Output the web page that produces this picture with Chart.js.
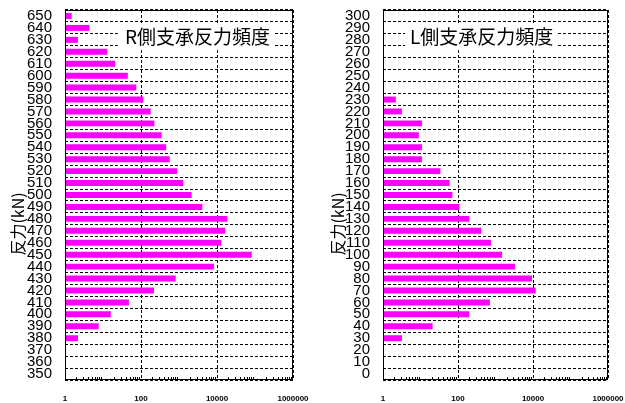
<!DOCTYPE html>
<html>
<head>
<meta charset="utf-8">
<script src="https://cdn.jsdelivr.net/npm/chart.js@4"></script>
<style>
  html, body { margin: 0; padding: 0; background: #fff; }
  .box { position: absolute; top: 0; height: 403px; }
  #left { left: 0; width: 310px; }
  #right { left: 320px; width: 305px; }
</style>
</head>
<body>
<div class="box" id="left"><canvas id="chartR"></canvas></div>
<div class="box" id="right"><canvas id="chartL"></canvas></div>
<script>
// R side: reaction force class (kN), bottom to top
const rLabels = ['350', '360', '370', '380', '390', '400', '410', '420', '430', '440',
  '450', '460', '470', '480', '490', '500', '510', '520', '530', '540',
  '550', '560', '570', '580', '590', '600', '610', '620', '630', '640', '650'];
const rCounts = [0, 0, 0, 2.2, 7.7, 16, 48, 220, 820, 8300,
  82000, 13000, 16500, 18700, 4100, 2150, 1300, 890, 570, 460,
  350, 225, 180, 115, 75, 45, 21, 13, 2.2, 4.4, 1.5];

// L side
const lLabels = ['0', '10', '20', '30', '40', '50', '60', '70', '80', '90',
  '100', '110', '120', '130', '140', '150', '160', '170', '180', '190',
  '200', '210', '220', '230', '240', '250', '260', '270', '280', '290', '300'];
const lCounts = [0, 0, 0, 3.2, 21, 200, 710, 11800, 9400, 3300,
  1500, 760, 420, 200, 110, 71, 60, 34, 11, 11,
  9, 11, 3.2, 2.2, 0, 0, 0, 0, 0, 0, 0];

const xTicks = [1, 100, 10000, 1000000];
const axisTitle = '反力(kN)';

const cjk = "'Noto Sans CJK JP', sans-serif";

// frame, minor ticks, boxed title and rotated axis title
const frame = {
  id: 'frame',
  afterDraw(chart, args, opts) {
    const { ctx, chartArea: a } = chart;
    const x = chart.scales.x;
    ctx.save();
    ctx.strokeStyle = '#000';
    ctx.lineWidth = 1;
    ctx.beginPath();
    for (let e = 0; e < 6; e++) {
      for (let m = 2; m < 10; m++) {
        const px = Math.round(x.getPixelForValue(m * Math.pow(10, e))) + 0.5;
        ctx.moveTo(px, a.bottom);
        ctx.lineTo(px, a.bottom - 3);
      }
    }
    ctx.stroke();
    ctx.strokeRect(Math.round(a.left) + 0.5, Math.round(a.top) + 0.5,
      Math.round(a.width) - 1, Math.round(a.height) - 1);

    ctx.font = '19px ' + cjk;
    const w = ctx.measureText(opts.text).width;
    const tx = a.left + opts.dx;
    ctx.fillStyle = '#fff';
    ctx.fillRect(tx - 5, 23, w + 8, 27);
    ctx.fillStyle = '#000';
    ctx.textBaseline = 'middle';
    ctx.fillText(opts.text, tx, 37);

    ctx.translate(17.5, 224);
    ctx.rotate(-Math.PI / 2);
    ctx.font = '16px ' + cjk;
    ctx.textAlign = 'center';
    ctx.fillText(axisTitle, 0, 0);
    ctx.restore();
  }
};

function make(id, labels, counts, title, dx, yWidth) {
  return new Chart(document.getElementById(id), {
    type: 'bar',
    data: {
      labels,
      datasets: [{
        data: counts,
        backgroundColor: '#ff00ff',
        barPercentage: 0.5,
        categoryPercentage: 1,
      }],
    },
    options: {
      indexAxis: 'y',
      responsive: true,
      maintainAspectRatio: false,
      animation: false,
      layout: { padding: { top: 10, right: 17, left: 0, bottom: 0 } },
      plugins: {
        legend: { display: false },
        tooltip: { enabled: false },
        frame: { text: title, dx },
      },
      scales: {
        x: {
          type: 'logarithmic',
          min: 1,
          max: 1000000,
          afterFit: s => {
            s.height = 23;
            s.paddingLeft = 0;
            s.paddingRight = 0;
          },
          afterBuildTicks: s => { s.ticks = xTicks.map(value => ({ value })); },
          grid: { color: '#000', drawTicks: false },
          border: { display: false, dash: [3, 2] },
          ticks: {
            padding: 14,
            maxRotation: 0,
            autoSkip: false,
            color: '#000',
            font: { family: "'Liberation Sans', sans-serif", size: 8, weight: 'bold' },
            callback: v => String(v),
          },
        },
        y: {
          reverse: true,
          afterFit: s => {
            s.width = yWidth;
            s.paddingTop = 0;
            s.paddingBottom = 0;
          },
          grid: { color: '#000', drawTicks: false },
          border: { display: false, dash: [3, 2] },
          ticks: {
            padding: 13,
            autoSkip: false,
            color: '#000',
            font: { family: "'Liberation Sans Narrow', 'Liberation Sans', sans-serif", size: 15 },
          },
        },
      },
    },
    plugins: [frame],
  });
}

make('chartR', rLabels, rCounts, 'R側支承反力頻度', 60, 65);
make('chartL', lLabels, lCounts, 'L側支承反力頻度', 27, 63);
</script>
</body>
</html>
